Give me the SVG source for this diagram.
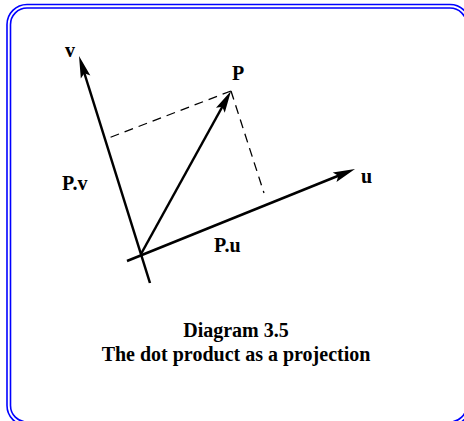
<svg xmlns="http://www.w3.org/2000/svg" width="464" height="421" viewBox="0 0 464 421">
<style>
.frame{fill:none;stroke:#0000ff;stroke-width:1.6}
.axis{stroke:#000;stroke-width:2.5;fill:none}
.dash{stroke:#000;stroke-width:1.3;fill:none;stroke-dasharray:9 6}
.lbl{font-family:"Liberation Serif","Times New Roman",serif;font-weight:bold;font-size:20px;fill:#000}
</style>
<defs>
<marker id="arr" markerUnits="userSpaceOnUse" markerWidth="22" markerHeight="10" refX="10" refY="5" orient="auto" overflow="visible">
<path d="M0,0 L22,5 L0,10 L4,5 Z" fill="#000"/>
</marker>
</defs>
<g id="frame">
<rect class="frame" x="7" y="4.5" width="463" height="421" rx="20"/>
<rect class="frame" x="10.5" y="8" width="456" height="414" rx="16.5"/>
</g>
<g id="connectors">
<line class="axis" x1="150" y1="283" x2="82.6" y2="67.5" marker-end="url(#arr)"/>
<line class="axis" x1="127" y1="261" x2="343.9" y2="173.5" marker-end="url(#arr)"/>
<line class="axis" x1="141" y1="254" x2="225.2" y2="101.5" marker-end="url(#arr)"/>
<line class="dash" x1="231" y1="91" x2="106" y2="139"/>
<line class="dash" x1="231" y1="91" x2="264" y2="193"/>
</g>
<g id="label-v"><text class="lbl" x="65" y="57">v</text></g>
<g id="label-P"><text class="lbl" x="232" y="80">P</text></g>
<g id="label-u"><text class="lbl" x="361" y="183">u</text></g>
<g id="label-Pv"><text class="lbl" x="62" y="190">P.v</text></g>
<g id="label-Pu"><text class="lbl" x="214" y="252">P.u</text></g>
<g id="caption">
<text class="lbl" x="236" y="337" text-anchor="middle">Diagram 3.5</text>
<text class="lbl" x="236" y="361" text-anchor="middle">The dot product as a projection</text>
</g>
</svg>
